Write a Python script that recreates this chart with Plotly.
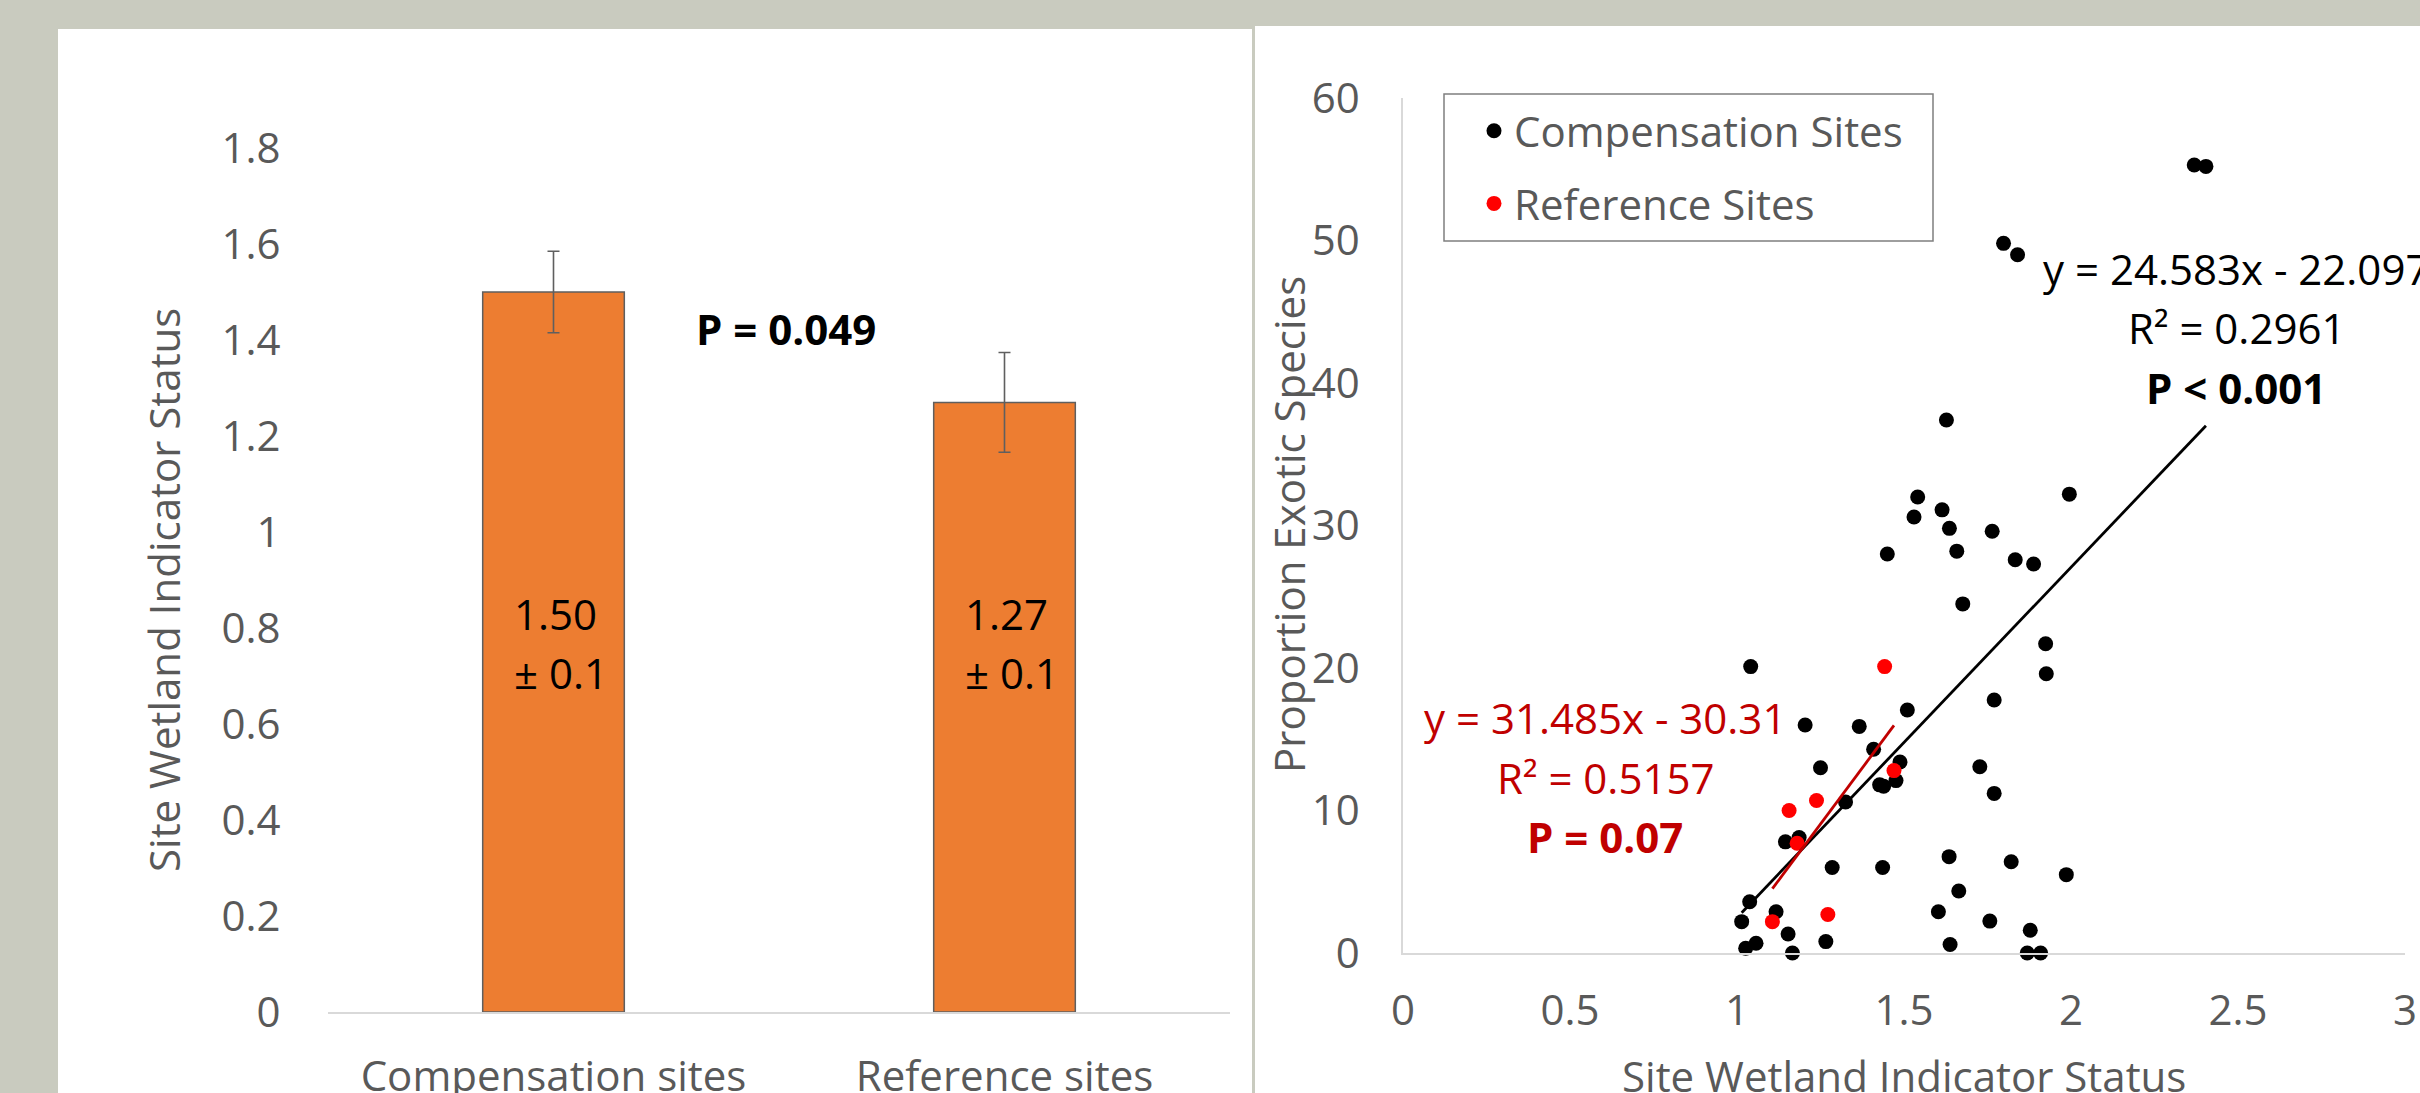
import plotly.graph_objects as go

# ---------------- data ----------------
bar_categories = ["Compensation sites", "Reference sites"]
bar_means = [1.50, 1.27]
bar_errors = [0.085, 0.104]
bar_labels_mean = ["1.50", "1.27"]
bar_labels_err = ["± 0.1", "± 0.1"]
bar_yticks = [0, 0.2, 0.4, 0.6, 0.8, 1.0, 1.2, 1.4, 1.6, 1.8]
bar_yticklabels = ["0", "0.2", "0.4", "0.6", "0.8", "1", "1.2", "1.4", "1.6", "1.8"]

comp_x = [2.369, 2.404, 1.798, 1.840, 1.627, 1.541, 1.995, 1.530, 1.614, 1.636,
          1.764, 1.450, 1.658, 1.833, 1.888, 1.676, 1.924, 1.926, 1.041, 1.770,
          1.510, 1.204, 1.366, 1.409, 1.488, 1.250, 1.727, 1.427, 1.439, 1.476,
          1.770, 1.325, 1.145, 1.186, 1.285, 1.436, 1.635, 1.821, 1.986, 1.664,
          1.038, 1.117, 1.603, 1.014, 1.757, 1.153, 1.878, 1.266, 1.638, 1.057,
          1.026, 1.166, 1.869, 1.909]
comp_y = [55.3, 55.2, 49.8, 49.0, 37.4, 32.0, 32.2, 30.6, 31.1, 29.8,
          29.6, 28.0, 28.2, 27.6, 27.3, 24.5, 21.7, 19.6, 20.1, 17.75,
          17.05, 16.0, 15.9, 14.3, 13.4, 13.0, 13.07, 11.8, 11.7, 12.1,
          11.2, 10.6, 7.8, 8.1, 6.0, 6.0, 6.76, 6.4, 5.5, 4.35,
          3.6, 2.9, 2.9, 2.2, 2.24, 1.33, 1.6, 0.8, 0.6, 0.68,
          0.33, 0.0, 0.0, 0.0]
ref_x = [1.442, 1.470, 1.238, 1.156, 1.180, 1.272, 1.106]
ref_y = [20.1, 12.8, 10.7, 10.0, 7.7, 2.7, 2.2]

comp_slope, comp_intercept = 24.583, -22.097
ref_slope, ref_intercept = 31.485, -30.31

sc_xticks = [0, 0.5, 1, 1.5, 2, 2.5, 3]
sc_xticklabels = ["0", "0.5", "1", "1.5", "2", "2.5", "3"]
sc_yticks = [0, 10, 20, 30, 40, 50, 60]
sc_yticklabels = ["0", "10", "20", "30", "40", "50", "60"]

# ---------------- layout helpers ----------------
W, H = 2420, 1093
def px(x):
    return x / W
def py(y):
    return 1 - y / H

FONT = "Open Sans"
GREY = "#595959"
FS = 42

fig = go.Figure()

fig.add_trace(go.Bar(
    x=bar_categories, y=bar_means,
    marker=dict(color="#ED7D31", line=dict(color="#5F5F5F", width=1.5)),
    error_y=dict(type="data", array=bar_errors, visible=True,
                 color="#5F5F5F", thickness=1.6, width=6),
    width=0.314, showlegend=False, xaxis="x", yaxis="y", hoverinfo="skip",
))

fig.add_trace(go.Scatter(
    x=comp_x, y=comp_y, mode="markers", name="Compensation Sites",
    marker=dict(color="#000000", size=15), cliponaxis=False,
    xaxis="x2", yaxis="y2", legendgroup="a",
))
fig.add_trace(go.Scatter(
    x=ref_x, y=ref_y, mode="markers", name="Reference Sites",
    marker=dict(color="#FF0000", size=15), cliponaxis=False,
    xaxis="x2", yaxis="y2", legendgroup="b",
))

cx = [min(comp_x), max(comp_x)]
fig.add_trace(go.Scatter(
    x=cx, y=[comp_slope * v + comp_intercept for v in cx], mode="lines",
    line=dict(color="#000000", width=2.8), showlegend=False,
    xaxis="x2", yaxis="y2", hoverinfo="skip",
))
rx = [min(ref_x), max(ref_x)]
fig.add_trace(go.Scatter(
    x=rx, y=[ref_slope * v + ref_intercept for v in rx], mode="lines",
    line=dict(color="#C00000", width=2.8), showlegend=False,
    xaxis="x2", yaxis="y2", hoverinfo="skip",
))

tickfont = dict(family=FONT, size=FS, color=GREY)

annotations = []
for i, (m, e) in enumerate(zip(bar_labels_mean, bar_labels_err)):
    annotations.append(dict(x=i - 0.093, y=0.830, xref="x", yref="y", text=m,
                            showarrow=False, xanchor="left", yanchor="middle",
                            font=dict(family=FONT, size=FS, color="#000000")))
    annotations.append(dict(x=i - 0.093, y=0.707, xref="x", yref="y", text=e,
                            showarrow=False, xanchor="left", yanchor="middle",
                            font=dict(family=FONT, size=FS, color="#000000")))
annotations.append(dict(x=px(786), y=py(328), xref="paper", yref="paper",
                        text="<b>P = 0.049</b>", showarrow=False,
                        xanchor="center", yanchor="middle",
                        font=dict(family=FONT, size=FS, color="#000000")))
for txt, yy in [("y = 24.583x - 22.097", 269), ("R² = 0.2961", 327), ("<b>P < 0.001</b>", 387)]:
    annotations.append(dict(x=px(2236), y=py(yy), xref="paper", yref="paper",
                            text=txt, showarrow=False, xanchor="center", yanchor="middle",
                            font=dict(family=FONT, size=FS, color="#000000")))
for txt, yy in [("y = 31.485x - 30.31", 717), ("R² = 0.5157", 777), ("<b>P = 0.07</b>", 836)]:
    annotations.append(dict(x=px(1605), y=py(yy), xref="paper", yref="paper",
                            text=txt, showarrow=False, xanchor="center", yanchor="middle",
                            font=dict(family=FONT, size=FS, color="#C00000")))
# axis titles
annotations.append(dict(x=px(163), y=py(590), xref="paper", yref="paper",
                        text="Site Wetland Indicator Status", textangle=-90,
                        showarrow=False, xanchor="center", yanchor="middle",
                        font=dict(family=FONT, size=FS, color=GREY)))
annotations.append(dict(x=px(1288), y=py(525), xref="paper", yref="paper",
                        text="Proportion Exotic Species", textangle=-90,
                        showarrow=False, xanchor="center", yanchor="middle",
                        font=dict(family=FONT, size=FS, color=GREY)))
annotations.append(dict(x=px(1904), y=py(1075), xref="paper", yref="paper",
                        text="Site Wetland Indicator Status",
                        showarrow=False, xanchor="center", yanchor="middle",
                        font=dict(family=FONT, size=FS, color=GREY)))

shapes = [
    dict(type="rect", xref="paper", yref="paper", x0=px(58), x1=px(1252), y0=0, y1=py(29),
         fillcolor="#FFFFFF", line=dict(width=0), layer="below"),
    dict(type="rect", xref="paper", yref="paper", x0=px(1255), x1=1, y0=0, y1=py(26),
         fillcolor="#FFFFFF", line=dict(width=0), layer="below"),
    dict(type="rect", xref="paper", yref="paper", x0=px(1444), x1=px(1933), y0=py(241), y1=py(94),
         fillcolor="rgba(0,0,0,0)", line=dict(color="#7F7F7F", width=1.5), layer="above"),
]

fig.update_layout(
    width=W, height=H, autosize=False,
    margin=dict(l=0, r=0, t=0, b=0, pad=0, autoexpand=False),
    paper_bgcolor="#C9CBBF", plot_bgcolor="rgba(0,0,0,0)",
    font=dict(family=FONT, size=FS, color=GREY),
    xaxis=dict(domain=[px(328), px(1230)], anchor="y", type="category", automargin=False,
               showline=True, linecolor="#D9D9D9", linewidth=1.5,
               showgrid=False, zeroline=False, tickfont=tickfont,
               ticks="outside", ticklen=27, tickcolor="rgba(0,0,0,0)"),
    yaxis=dict(domain=[py(1012), py(148)], anchor="x", range=[0, 1.8], automargin=False,
               tickvals=bar_yticks, ticktext=bar_yticklabels,
               showline=False, showgrid=False, zeroline=False, tickfont=tickfont,
               ticks="outside", ticklen=38, tickcolor="rgba(0,0,0,0)"),
    xaxis2=dict(domain=[px(1403), px(2405)], anchor="y2", range=[0, 3], automargin=False,
                tickvals=sc_xticks, ticktext=sc_xticklabels,
                showline=True, linecolor="#D9D9D9", linewidth=1.5,
                showgrid=False, zeroline=False, tickfont=tickfont,
                ticks="outside", ticklen=20, tickcolor="rgba(0,0,0,0)"),
    yaxis2=dict(domain=[py(953), py(98)], anchor="x2", range=[0, 60], automargin=False,
                tickvals=sc_yticks, ticktext=sc_yticklabels,
                showline=True, linecolor="#D9D9D9", linewidth=1.5,
                showgrid=False, zeroline=False, tickfont=tickfont,
                ticks="outside", ticklen=33, tickcolor="rgba(0,0,0,0)"),
    legend=dict(x=px(1474), y=py(97), xanchor="left", yanchor="top",
                bgcolor="rgba(0,0,0,0)", borderwidth=0,
                font=dict(family=FONT, size=FS, color=GREY),
                traceorder="grouped", tracegroupgap=15),
    annotations=annotations,
    shapes=shapes,
    bargap=0.686,
)

fig.write_html(
    "out.html",
    config={"displayModeBar": False},
    post_script="document.body.style.margin='0';document.body.style.padding='0';"
                "document.documentElement.style.overflow='hidden';document.body.style.overflow='hidden';",
)
